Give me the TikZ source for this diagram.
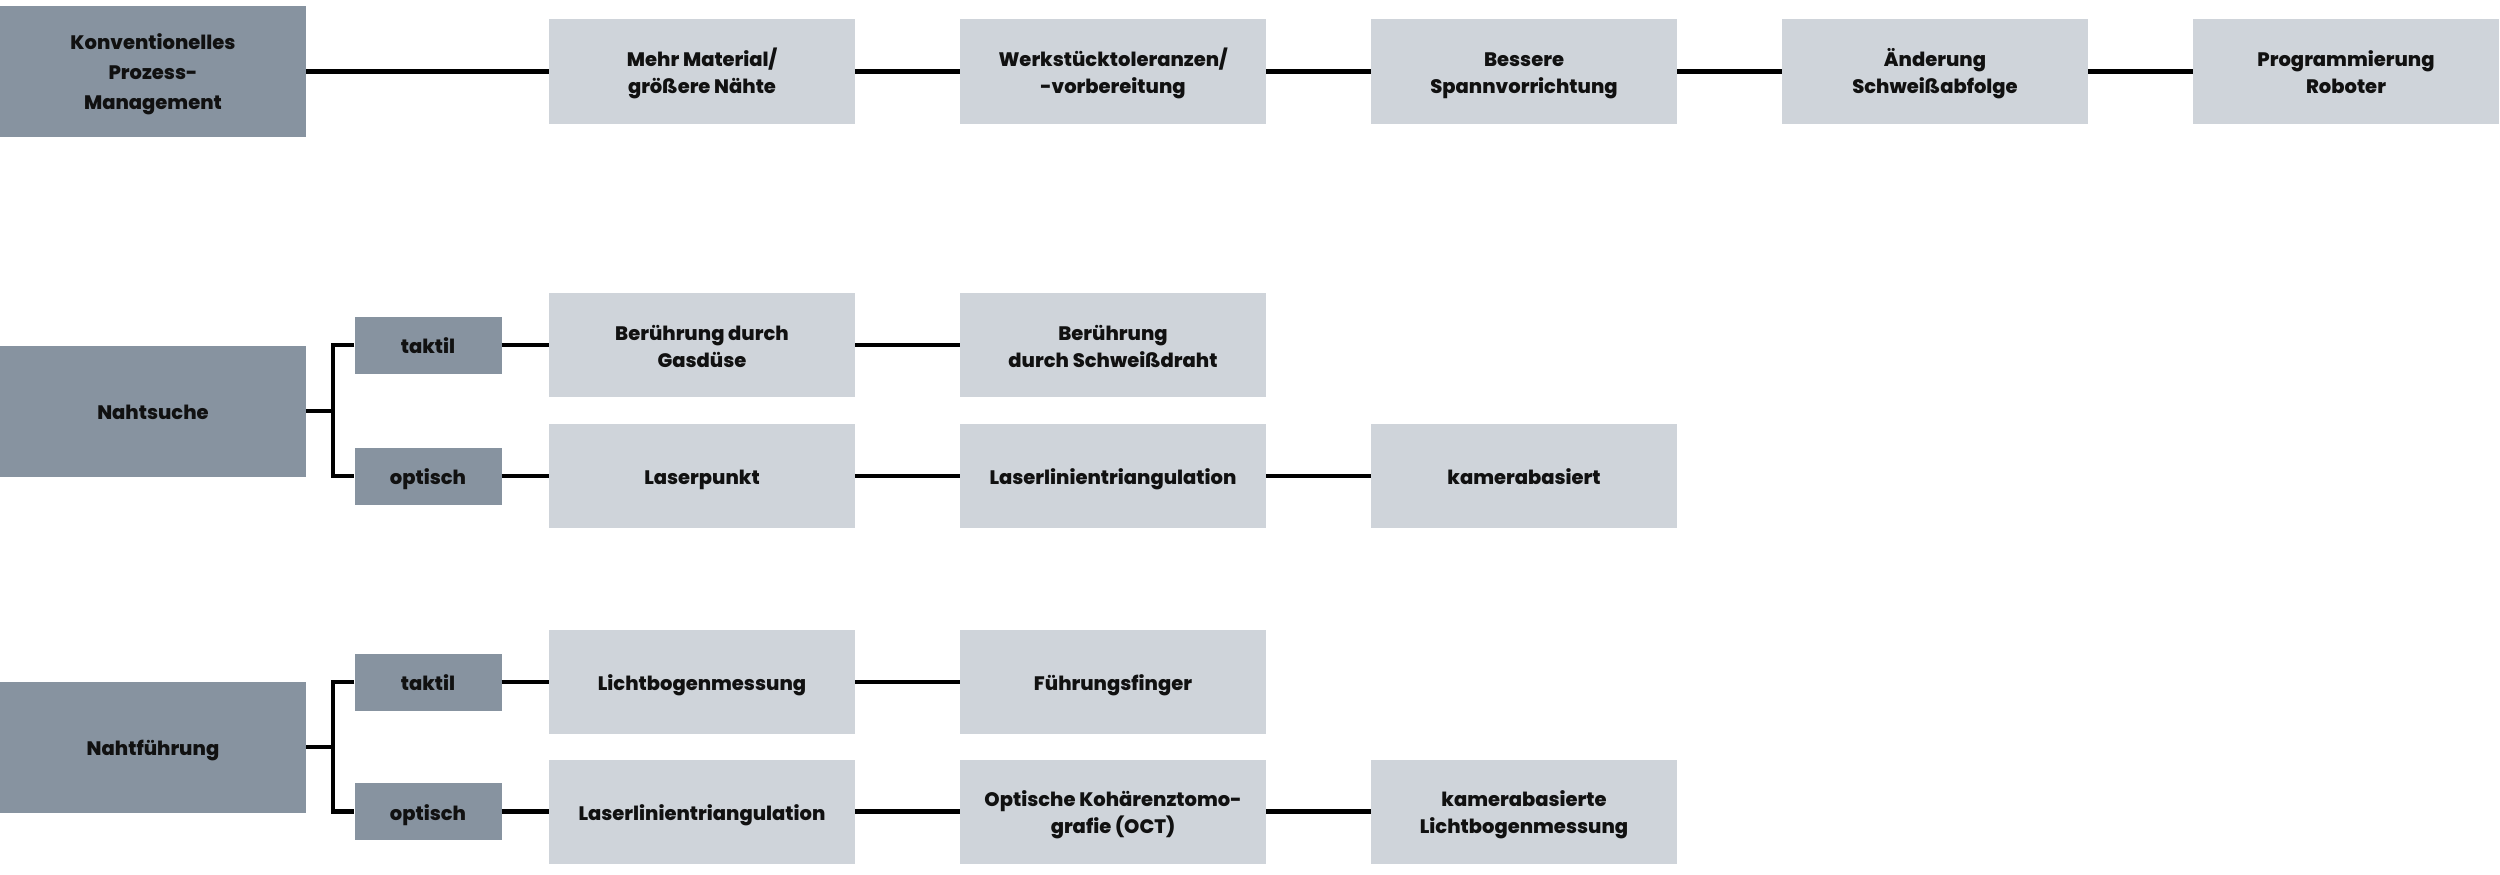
\documentclass[tikz,border=0pt]{standalone}
\usepackage{fontspec}
\setmainfont{Poppins}[BoldFont={Poppins ExtraBold}]
\definecolor{darkbox}{HTML}{8793A0}
\definecolor{lightbox}{HTML}{CFD4DA}
\definecolor{txt}{HTML}{111111}
\tikzset{
  base/.style={inner sep=0pt, align=center, text=txt,
    font=\fontsize{19.5}{27}\selectfont\bfseries,
    execute at begin node={\rule{0pt}{25pt}},
    execute at end node={\rule[-8pt]{0pt}{8pt}}},
  twolines/.style={execute at begin node={\rule{0pt}{52pt}}},
  threelines/.style={execute at begin node={\rule{0pt}{85pt}},
    font=\fontsize{19.5}{30}\selectfont\bfseries},
  mainbox/.style={base, fill=darkbox, minimum width=306pt, minimum height=131pt},
  subbox/.style={base, fill=darkbox, minimum width=147pt, minimum height=57pt},
  itembox/.style={base, fill=lightbox, minimum width=306pt, minimum height=104pt},
  conn/.style={line width=4.5pt, draw=black}
}
\begin{document}
\begin{tikzpicture}[x=1pt,y=-1pt]
\useasboundingbox (0,0) rectangle (2500,875);
% Row 1
\node[mainbox, threelines] (k) at (153,71.5) {Konventionelles\\Prozess-\\Management};
\node[itembox, twolines] (k1) at (702,71.5) {Mehr Material/\\größere Nähte};
\node[itembox, twolines] (k2) at (1113,71.5) {Werkstücktoleranzen/\\-vorbereitung};
\node[itembox, twolines] (k3) at (1524,71.5) {Bessere\\Spannvorrichtung};
\node[itembox, twolines] (k4) at (1935,71.5) {Änderung\\Schweißabfolge};
\node[itembox, twolines] (k5) at (2346,71.5) {Programmierung\\Roboter};
\draw[conn] (k) -- (k1) (k1) -- (k2) (k2) -- (k3) (k3) -- (k4) (k4) -- (k5);
% Row 2
\node[mainbox] (s) at (153,411) {Nahtsuche};
\node[subbox] (st) at (428,345) {taktil};
\node[subbox] (so) at (428,476) {optisch};
\node[itembox, twolines] (st1) at (702,345) {Berührung durch\\Gasdüse};
\node[itembox, twolines] (st2) at (1113,345) {Berührung\\durch Schweißdraht};
\node[itembox] (so1) at (702,476) {Laserpunkt};
\node[itembox] (so2) at (1113,476) {Laserlinientriangulation};
\node[itembox] (so3) at (1524,476) {kamerabasiert};
\coordinate (sb) at (333,411);
\draw[conn] (s.east) -- (sb);
\draw[conn] (st.west) -| (sb) |- (so.west);
\draw[conn] (st) -- (st1) (st1) -- (st2);
\draw[conn] (so) -- (so1) (so1) -- (so2) (so2) -- (so3);
% Row 3
\node[mainbox] (f) at (153,747) {Nahtführung};
\node[subbox] (ft) at (428,682) {taktil};
\node[subbox] (fo) at (428,811.5) {optisch};
\node[itembox] (ft1) at (702,682) {Lichtbogenmessung};
\node[itembox] (ft2) at (1113,682) {Führungsfinger};
\node[itembox] (fo1) at (702,811.5) {Laserlinientriangulation};
\node[itembox, twolines] (fo2) at (1113,811.5) {Optische Kohärenztomo-\\grafie (OCT)};
\node[itembox, twolines] (fo3) at (1524,811.5) {kamerabasierte\\Lichtbogenmessung};
\coordinate (fb) at (333,747);
\draw[conn] (f.east) -- (fb);
\draw[conn] (ft.west) -| (fb) |- (fo.west);
\draw[conn] (ft) -- (ft1) (ft1) -- (ft2);
\draw[conn] (fo) -- (fo1) (fo1) -- (fo2) (fo2) -- (fo3);
\end{tikzpicture}
\end{document}
